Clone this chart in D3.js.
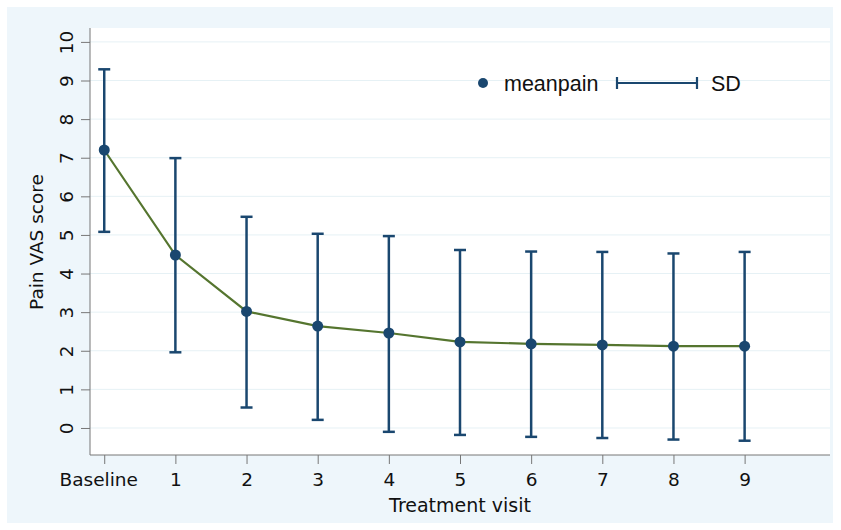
<!DOCTYPE html>
<html>
<head>
<meta charset="utf-8">
<script src="https://cdn.jsdelivr.net/npm/d3@7"></script>
<style>
  body { margin: 0; background: #fff; }
  text { fill: #111; }
</style>
</head>
<body>
<svg id="chart"></svg>
<script>
// Data
const visits = ["Baseline", "1", "2", "3", "4", "5", "6", "7", "8", "9"];
const meanPain = [7.2, 4.48, 3.02, 2.64, 2.46, 2.23, 2.18, 2.15, 2.12, 2.12];
const upperSD = [9.29, 6.99, 5.47, 5.03, 4.97, 4.61, 4.57, 4.56, 4.52, 4.56];
const lowerSD = [5.08, 1.96, 0.53, 0.21, -0.1, -0.18, -0.23, -0.26, -0.3, -0.33];
const yTicks = [0, 1, 2, 3, 4, 5, 6, 7, 8, 9, 10];

const width = 841;
const height = 530;
const plot = { left: 90, right: 830, top: 28, bottom: 455 };

const navy = "#1a476f";
const green = "#55752f";
const font = "DejaVu Sans";

const svg = d3.select("#chart")
    .attr("width", width)
    .attr("height", height);

// outer panel
svg.append("rect")
    .attr("x", 7).attr("y", 7)
    .attr("width", 826).attr("height", 516)
    .attr("fill", "#eef6fb");

svg.append("rect")
    .attr("x", plot.left).attr("y", plot.top)
    .attr("width", plot.right - plot.left)
    .attr("height", plot.bottom - plot.top)
    .attr("fill", "#fff");

const x = d3.scaleLinear()
    .domain([-0.2, 10.2])
    .range([plot.left, plot.right]);

const y = d3.scaleLinear()
    .domain([-0.7, 10.36])
    .range([plot.bottom, plot.top]);

// grid
svg.selectAll(".grid")
    .data(yTicks)
    .enter()
    .append("line")
    .attr("class", "grid")
    .attr("x1", plot.left).attr("x2", plot.right)
    .attr("y1", d => y(d)).attr("y2", d => y(d))
    .attr("stroke", "#e6f1f5")
    .attr("stroke-width", 1);

// y axis
const yAxis = svg.append("g")
    .attr("transform", "translate(" + plot.left + ",0)")
    .call(d3.axisLeft(y).tickValues(yTicks).tickSize(9));
yAxis.select(".domain").attr("d", "M0," + plot.top + "V" + plot.bottom).attr("stroke", "#777");
yAxis.selectAll(".tick line").attr("stroke", "#777");
yAxis.selectAll(".tick text")
    .attr("transform", "rotate(-90)")
    .attr("x", 0)
    .attr("y", -23)
    .attr("dy", "0.35em")
    .style("text-anchor", "middle")
    .style("font-family", font)
    .style("font-size", "18.5px")
    .style("fill", "#111");

// x axis
const xAxis = svg.append("g")
    .attr("transform", "translate(0," + plot.bottom + ")")
    .call(d3.axisBottom(x).tickValues(d3.range(visits.length)).tickFormat(i => visits[i]).tickSize(9).tickPadding(9));
xAxis.select(".domain").attr("d", "M" + plot.left + ",0H" + plot.right).attr("stroke", "#777");
xAxis.selectAll(".tick line").attr("stroke", "#777");
xAxis.selectAll(".tick text")
    .attr("dx", (d, i) => i === 0 ? -6 : 0)
    .style("font-family", font)
    .style("font-size", "18.5px")
    .style("fill", "#111");

// axis titles
svg.append("text")
    .attr("x", 460)
    .attr("y", 512)
    .style("text-anchor", "middle")
    .style("font-family", font)
    .style("font-size", "19px")
    .text("Treatment visit");

svg.append("text")
    .attr("transform", "rotate(-90)")
    .attr("x", -242)
    .attr("y", 43)
    .style("text-anchor", "middle")
    .style("font-family", font)
    .style("font-size", "18.5px")
    .text("Pain VAS score");

const data = visits.map((v, i) => ({ i: i, mean: meanPain[i], hi: upperSD[i], lo: lowerSD[i] }));

// error bars
const bars = svg.selectAll(".sd")
    .data(data)
    .enter()
    .append("g")
    .attr("class", "sd")
    .attr("stroke", navy)
    .attr("stroke-width", 2.5);
bars.append("line")
    .attr("x1", d => x(d.i)).attr("x2", d => x(d.i))
    .attr("y1", d => y(d.hi)).attr("y2", d => y(d.lo));
bars.append("line")
    .attr("x1", d => x(d.i) - 6).attr("x2", d => x(d.i) + 6)
    .attr("y1", d => y(d.hi)).attr("y2", d => y(d.hi));
bars.append("line")
    .attr("x1", d => x(d.i) - 6).attr("x2", d => x(d.i) + 6)
    .attr("y1", d => y(d.lo)).attr("y2", d => y(d.lo));

// mean line
svg.append("path")
    .datum(data)
    .attr("fill", "none")
    .attr("stroke", green)
    .attr("stroke-width", 2.2)
    .attr("d", d3.line().x(d => x(d.i)).y(d => y(d.mean)));

svg.selectAll(".dot")
    .data(data)
    .enter()
    .append("circle")
    .attr("class", "dot")
    .attr("cx", d => x(d.i))
    .attr("cy", d => y(d.mean))
    .attr("r", 5.5)
    .attr("fill", navy);

// legend
const legend = svg.append("g");
legend.append("circle")
    .attr("cx", 483).attr("cy", 83).attr("r", 5).attr("fill", navy);
legend.append("text")
    .attr("x", 504).attr("y", 91)
    .style("font-family", "Liberation Sans")
    .style("font-size", "21.5px")
    .text("meanpain");
legend.append("path")
    .attr("d", "M617,83H697M617,77V89M697,77V89")
    .attr("stroke", navy)
    .attr("stroke-width", 2.2)
    .attr("fill", "none");
legend.append("text")
    .attr("x", 711).attr("y", 91)
    .style("font-family", "Liberation Sans")
    .style("font-size", "21.5px")
    .text("SD");
</script>
</body>
</html>
